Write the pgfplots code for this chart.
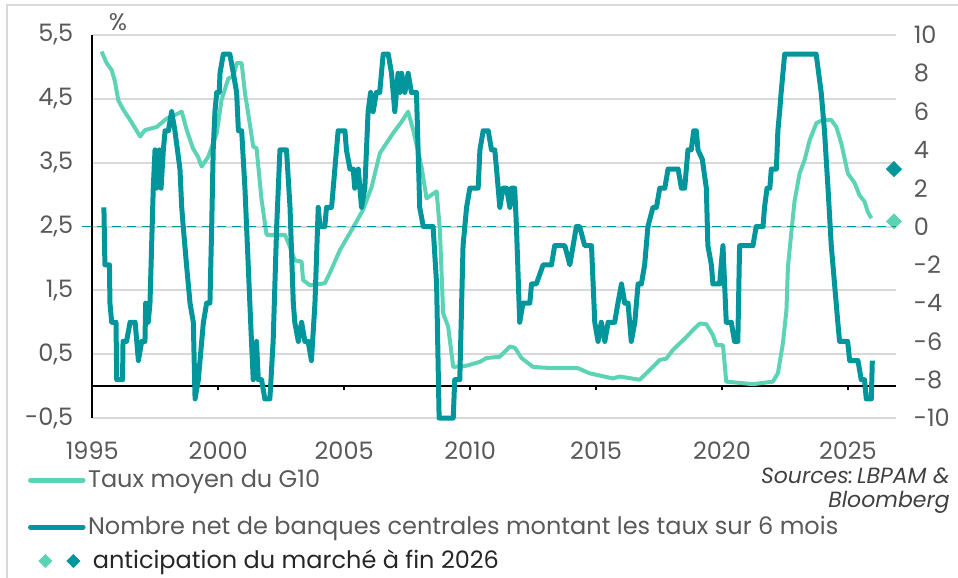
\documentclass[border=0pt]{standalone}
\usepackage{fontspec}
\setmainfont{Poppins}
\usepackage{pgfplots}
\pgfplotsset{compat=1.18}
\definecolor{mint}{HTML}{5DD3B6}
\definecolor{darkteal}{HTML}{00969B}
\definecolor{gridgray}{HTML}{D9D9D9}
\definecolor{tickgray}{HTML}{595959}
\newcommand\ff{\fontsize{12bp}{14bp}\selectfont}
\newcommand\fs{\fontsize{11bp}{13bp}\selectfont}
\pgfplotsset{
  base/.style={scale only axis, width=401.7bp, height=191.5bp,
    xmin=1995, xmax=2026.9, at={(0pt,0pt)}, anchor=south west, clip=false,
    /pgf/number format/assume math mode=true,
    ticklabel style={font=\ff, text=tickgray},
    major tick length=0pt, axis line style={draw=none}},
  leg/.style={legend style={at={(axis description cs:#1)}, anchor=west, draw=none, fill=none,
    inner sep=0pt, outer sep=0pt, font=\ff, text=tickgray, column sep=1.25bp,
    nodes={inner sep=0pt}}, legend cell align=left},
  lineimg/.style={legend image code/.code={\draw[##1, line width=2.5bp, line cap=round] (1.25bp,0bp) -- (27.5bp,0bp);}}
}
\begin{document}
\begin{tikzpicture}
% ---------------- left axis: G10 rate ----------------
\begin{axis}[base,
  ymin=-0.5, ymax=5.5, ytick={-0.5,0.5,1.5,2.5,3.5,4.5,5.5},
  ymajorgrids, grid style={gridgray, line width=1bp},
  yticklabel style={/pgf/number format/.cd, fixed, fixed zerofill, precision=1, use comma, /tikz/.cd, xshift=-6bp},
  xtick={1995,2000,2005,2010,2015,2020,2025},
  xticklabel style={/pgf/number format/1000 sep={}, yshift=-8.5bp},
  leg={-0.0800,-0.1619}, lineimg]
\coordinate (bl) at (axis description cs:-0.1149,-0.4151);
\coordinate (tr) at (axis description cs:1.0775,1.0914);
\draw[gridgray, line width=1bp] (axis description cs:-0.1062,-0.5) -- (axis description cs:-0.1062,1.078) -- (axis description cs:1.2,1.078);
\draw[black, line width=1bp] (axis cs:1995,-0.5) -- (axis cs:1995,5.5);
\draw[black, line width=1bp] (axis cs:1995,0) -- (axis cs:2026.9,0);
\draw[black, line width=1bp] (axis cs:2000,0) -- (axis cs:2000,-0.055);
\draw[black, line width=1bp] (axis cs:2005,0) -- (axis cs:2005,-0.055);
\draw[black, line width=1bp] (axis cs:2010,0) -- (axis cs:2010,-0.055);
\draw[black, line width=1bp] (axis cs:2015,0) -- (axis cs:2015,-0.055);
\draw[black, line width=1bp] (axis cs:2020,0) -- (axis cs:2020,-0.055);
\draw[black, line width=1bp] (axis cs:2025,0) -- (axis cs:2025,-0.055);
\node[font=\ff, text=tickgray] at (axis description cs:0.032,1.034) {\%};
\node[font=\fs\itshape, text=black!75, anchor=east, inner sep=0pt] at (axis description cs:1.0676,-0.152) {Sources:\,LBPAM \&};
\node[font=\fs\itshape, text=black!75, anchor=east, inner sep=0pt] at (axis description cs:1.0676,-0.221) {Bloomberg};
\addplot[mint, line width=2bp, line join=round] coordinates {
(1995.37,5.24) (1995.57,5.06) (1995.77,4.95) (1995.9,4.77) (1996.03,4.48) (1996.23,4.33)
(1996.5,4.17) (1996.9,3.91) (1997.09,4.01) (1997.56,4.06) (1997.95,4.19) (1998.3,4.25)
(1998.55,4.30) (1998.75,4.01) (1999.0,3.72) (1999.2,3.59) (1999.34,3.44) (1999.6,3.59)
(1999.94,3.96) (2000.13,4.48) (2000.4,4.82) (2000.6,4.85) (2000.73,5.06) (2000.93,5.06)
(2001.06,4.59) (2001.19,4.27) (2001.39,3.75) (2001.52,3.73) (2001.72,2.92) (2001.92,2.37)
(2002.45,2.37) (2002.65,2.37) (2002.85,2.18) (2003.04,1.97) (2003.31,1.95) (2003.37,1.66)
(2003.64,1.58) (2004.23,1.61) (2004.43,1.77) (2004.83,2.13) (2005.29,2.44) (2005.75,2.76)
(2006.09,3.12) (2006.42,3.65) (2006.94,3.96) (2007.28,4.14) (2007.54,4.30) (2007.74,4.01)
(2008.07,3.44) (2008.27,2.94) (2008.67,3.05) (2008.8,2.45) (2008.93,1.14) (2009.13,0.93)
(2009.33,0.30) (2009.86,0.32) (2010.39,0.38) (2010.65,0.44) (2011.18,0.46) (2011.58,0.62)
(2011.78,0.60) (2012.04,0.44) (2012.5,0.30) (2013.29,0.28) (2014.29,0.28) (2014.75,0.20)
(2015.67,0.12) (2015.94,0.15) (2016.73,0.10) (2017.13,0.25) (2017.53,0.41) (2017.79,0.43)
(2018.06,0.57) (2018.59,0.77) (2018.85,0.88) (2019.12,0.98) (2019.38,0.97) (2019.64,0.80)
(2019.78,0.64) (2020.04,0.64) (2020.17,0.07) (2021.23,0.03) (2022.02,0.07) (2022.22,0.20)
(2022.42,0.67) (2022.56,1.19) (2022.62,1.87) (2022.75,2.39) (2022.88,2.89) (2023.08,3.33)
(2023.28,3.54) (2023.48,3.85) (2023.75,4.12) (2024.01,4.17) (2024.34,4.17) (2024.54,4.06)
(2024.74,3.80) (2025.0,3.33) (2025.27,3.18) (2025.46,2.99) (2025.66,2.89) (2025.79,2.73)
(2025.93,2.63)};
\addlegendentry{Taux moyen du G10}
\addplot[only marks, mark=square*, mark size=2.65bp, mark options={rotate=45, fill=mint, draw=mint}, forget plot] coordinates {(2026.83,2.58)};
\end{axis}
% ---------------- right axis: net number of central banks ----------------
\begin{axis}[base,
  ymin=-10, ymax=10, ytick={-10,-8,...,10},
  axis y line*=right, axis x line=none,
  yticklabel style={anchor=west, xshift=5.5bp},
  leg={-0.0800,-0.2846}, lineimg]
\draw[darkteal, line width=0.8bp, dash pattern=on 4.5bp off 3bp] (axis cs:1994.6,0) -- (axis cs:2026.9,0);
\addplot[darkteal, line width=2.5bp, line join=round] coordinates {
(1995.46,1) (1995.50,-2) (1995.68,-2) (1995.70,-4) (1995.77,-5) (1995.94,-5) (1995.97,-8)
(1996.2,-8) (1996.22,-6) (1996.36,-6) (1996.5,-5) (1996.7,-5) (1996.83,-7) (1996.96,-6)
(1997.09,-6) (1997.12,-4) (1997.22,-5) (1997.29,-4) (1997.42,2) (1997.49,4) (1997.55,2)
(1997.66,4) (1997.73,2) (1997.82,4) (1997.89,5) (1998.02,5) (1998.15,6) (1998.28,5)
(1998.48,3) (1998.55,1) (1998.61,0) (1998.74,-2) (1998.88,-4) (1999.01,-5) (1999.08,-9)
(1999.21,-8) (1999.41,-5) (1999.54,-4) (1999.67,-4) (1999.74,0) (1999.80,4) (1999.87,6)
(1999.94,7) (2000.04,7) (2000.07,8) (2000.2,9) (2000.46,9) (2000.6,8) (2000.73,7)
(2000.8,5) (2000.93,5) (2001.06,2) (2001.19,-2) (2001.32,-6) (2001.39,-8) (2001.52,-6)
(2001.59,-8) (2001.72,-8) (2001.85,-9) (2002.05,-9) (2002.18,-6) (2002.32,0) (2002.45,4)
(2002.71,4) (2002.85,1) (2002.98,-4) (2003.04,-5) (2003.18,-6) (2003.31,-5) (2003.44,-6)
(2003.57,-6) (2003.70,-7) (2003.84,-4) (2003.97,1) (2004.04,0) (2004.23,0) (2004.3,1)
(2004.5,1) (2004.63,3) (2004.76,5) (2005.03,5) (2005.09,4) (2005.23,3) (2005.36,3)
(2005.42,2) (2005.56,3) (2005.69,1) (2005.82,2) (2005.95,6) (2006.05,7) (2006.15,6)
(2006.28,7) (2006.41,7) (2006.55,9) (2006.75,9) (2006.88,8) (2007.01,6) (2007.14,8)
(2007.21,7) (2007.28,8) (2007.41,7) (2007.54,8) (2007.67,7) (2007.87,7) (2008.0,1)
(2008.14,0) (2008.53,0) (2008.67,-3) (2008.77,-10) (2009.33,-10) (2009.39,-8) (2009.59,-8)
(2009.72,-1) (2009.86,1) (2009.99,2) (2010.32,2) (2010.39,4) (2010.52,5) (2010.72,5)
(2010.85,4) (2010.98,4) (2011.05,3) (2011.18,1) (2011.31,2) (2011.45,2) (2011.58,1)
(2011.64,2) (2011.77,2) (2011.84,0) (2011.97,-5) (2012.1,-4) (2012.37,-4) (2012.44,-3)
(2012.63,-3) (2012.9,-2) (2013.23,-2) (2013.36,-1) (2013.76,-1) (2013.96,-2) (2014.09,-1)
(2014.22,0) (2014.35,0) (2014.55,-1) (2014.82,-1) (2014.95,-5) (2015.08,-6) (2015.21,-5)
(2015.35,-6) (2015.48,-5) (2015.74,-5) (2015.87,-4) (2016.01,-3) (2016.14,-4) (2016.27,-4)
(2016.4,-6) (2016.54,-5) (2016.67,-3) (2016.8,-3) (2016.93,-2) (2017.06,0) (2017.26,1)
(2017.4,1) (2017.53,2) (2017.73,2) (2017.86,3) (2018.26,3) (2018.39,2) (2018.52,2)
(2018.65,4) (2018.78,4) (2018.88,5) (2018.98,5) (2019.05,4) (2019.22,3.5) (2019.38,2)
(2019.44,-1) (2019.58,-2) (2019.64,-3) (2019.91,-3) (2019.97,-2) (2020.04,-1) (2020.17,-5)
(2020.37,-5) (2020.5,-6) (2020.63,-6) (2020.7,-1) (2021.23,-1) (2021.36,0) (2021.63,0)
(2021.69,1) (2021.79,2) (2021.9,2) (2021.96,3) (2022.16,3) (2022.22,5) (2022.29,6)
(2022.35,7) (2022.49,9) (2023.74,9) (2023.94,7) (2024.07,5) (2024.21,2) (2024.34,-1)
(2024.47,-3) (2024.6,-5) (2024.67,-6) (2024.99,-6) (2025.07,-7) (2025.4,-7) (2025.53,-8)
(2025.66,-8) (2025.73,-9) (2025.93,-9) (2025.97,-7)};
\addlegendentry{Nombre net de banques centrales montant les taux sur 6 mois}
\addplot[only marks, mark=square*, mark size=2.65bp, mark options={rotate=45, fill=darkteal, draw=darkteal}, forget plot] coordinates {(2026.83,3)};
\end{axis}
% ---------------- legend-only axis ----------------
\begin{axis}[base, hide axis, ymin=0, ymax=1,
  legend style={at={(axis description cs:-0.0670,-0.3734)}, anchor=west, draw=none, fill=none,
    inner sep=0pt, outer sep=0pt, font=\ff, text=black!85, column sep=1.25bp, nodes={inner sep=0pt}},
  legend cell align=left]
\addlegendimage{legend image code/.code={
  \fill[mint] (3.25bp,3.25bp) -- (6.5bp,0bp) -- (3.25bp,-3.25bp) -- (0bp,0bp) -- cycle;
  \fill[darkteal] (17.25bp,3.25bp) -- (20.5bp,0bp) -- (17.25bp,-3.25bp) -- (14bp,0bp) -- cycle;
  \path (25.5bp,0bp);}}
\addlegendentry{anticipation du marché à fin 2026}
\end{axis}
\pgfresetboundingbox
\path[use as bounding box] (bl) rectangle (tr);
\end{tikzpicture}
\end{document}
